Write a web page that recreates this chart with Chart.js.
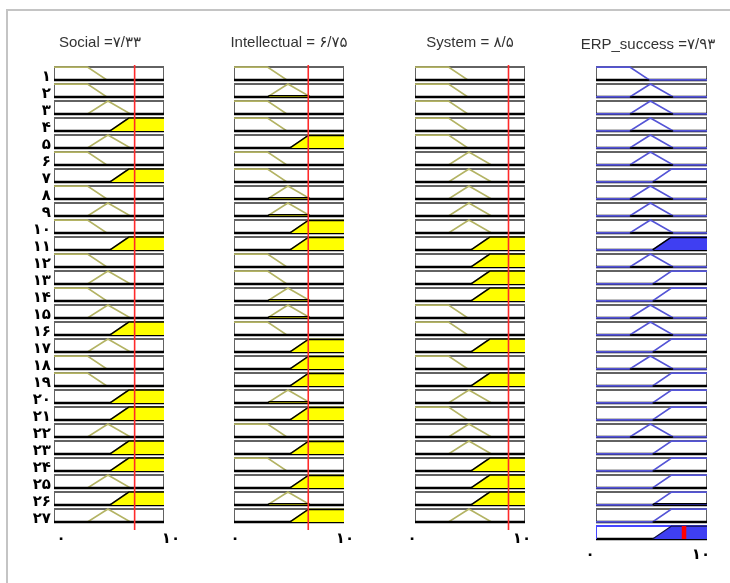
<!DOCTYPE html>
<html>
<head>
<meta charset="utf-8">
<title>Rule viewer</title>
<script src="https://cdn.jsdelivr.net/npm/chart.js@4.4.1/dist/chart.umd.min.js"></script>
<style>
  html, body { margin: 0; padding: 0; background: #fff; }
  #page { position: relative; width: 730px; height: 583px; overflow: hidden; }
  #frame {
    position: absolute; left: 6px; top: 9px; width: 740px; height: 600px;
    border-top: 2px solid #c4c4c4; border-left: 2px solid #c4c4c4;
  }
  canvas { position: absolute; top: 0; }
</style>
</head>
<body>
<div id="page">
  <div id="frame"></div>
  <canvas id="social" width="200" height="583" style="left:0px"></canvas>
  <canvas id="intellectual" width="170" height="583" style="left:204px"></canvas>
  <canvas id="system" width="170" height="583" style="left:385px"></canvas>
  <canvas id="erp" width="164" height="583" style="left:566px"></canvas>
</div>
<script>
const rowLabels = ['۱', '۲', '۳', '۴', '۵', '۶', '۷', '۸', '۹', '۱۰', '۱۱', '۱۲', '۱۳', '۱۴',
  '۱۵', '۱۶', '۱۷', '۱۸', '۱۹', '۲۰', '۲۱', '۲۲', '۲۳', '۲۴', '۲۵', '۲۶', '۲۷'];
const xTickValues = [0, 10];
const xTickLabels = ['۰', '۱۰'];

const inputTitles = ['Social =۷/۳۳', 'Intellectual = ۶/۷۵', 'System = ۸/۵'];
const outputTitle = 'ERP_success =۷/۹۳';
const inputValues = [7.33, 6.75, 8.5];
const outputValue = 7.93;

// membership functions (L = low, M = medium, H = high), breakpoints on 0..10
const mfLowX = [0, 3.05, 4.8, 10];
const mfLowY = [1, 1, 0, 0];
const mfMedX = [0, 3.05, 4.9, 6.95, 10];
const mfMedY = [0, 0, 1, 0, 0];
const mfHighX = [0, 5.1, 6.8, 10];
const mfHighY = [0, 0, 1, 1];

// which membership function each of the 27 rules uses
const socialRule = ['L', 'L', 'M', 'H', 'M', 'L', 'H', 'L', 'M', 'L', 'H', 'L', 'M', 'L',
  'M', 'H', 'M', 'L', 'L', 'H', 'H', 'M', 'H', 'H', 'M', 'H', 'M'];
const intellectualRule = ['L', 'M', 'L', 'L', 'H', 'L', 'L', 'M', 'M', 'H', 'H', 'L', 'L', 'M',
  'M', 'L', 'H', 'H', 'H', 'M', 'H', 'L', 'H', 'L', 'H', 'M', 'H'];
const systemRule = ['L', 'L', 'L', 'L', 'L', 'M', 'M', 'M', 'M', 'M', 'H', 'H', 'H', 'H',
  'L', 'L', 'H', 'L', 'H', 'M', 'L', 'M', 'M', 'H', 'H', 'H', 'M'];
const erpRule = ['L', 'M', 'M', 'M', 'M', 'M', 'H', 'M', 'M', 'M', 'H', 'M', 'H', 'H',
  'M', 'M', 'H', 'M', 'H', 'H', 'H', 'M', 'H', 'H', 'H', 'H', 'H'];

// aggregated output shown in the last box
const aggregateX = [0, 5.1, 6.8, 10];
const aggregateY = [0, 0, 1, 1];

// ---- drawing helpers ----
const BOX = 0.76; // box height as a share of one row
const shapes = {
  L: { x: mfLowX, y: mfLowY },
  M: { x: mfMedX, y: mfMedY },
  H: { x: mfHighX, y: mfHighY },
};

const rowTop = (r) => r - BOX / 2;
const rowBottom = (r) => r + BOX / 2;
const muToY = (r, mu) => rowBottom(r) - mu * BOX;

function mfValue(shape, x) {
  for (let i = 0; i < shape.x.length - 1; i++) {
    const x0 = shape.x[i], x1 = shape.x[i + 1];
    if (x >= x0 && x <= x1) {
      const t = (x - x0) / (x1 - x0);
      return shape.y[i] + t * (shape.y[i + 1] - shape.y[i]);
    }
  }
  return 0;
}

function shapePoints(shape, r) {
  return shape.x.map((x, i) => ({ x, y: muToY(r, shape.y[i]) }));
}

// outline of min(mf, level) over the support of the function
function clippedPoints(shape, r, level) {
  const pts = [];
  for (let i = 0; i < shape.x.length - 1; i++) {
    const x0 = shape.x[i], x1 = shape.x[i + 1];
    const y0 = shape.y[i], y1 = shape.y[i + 1];
    if (y0 === 0 && y1 === 0) continue;
    pts.push({ x: x0, y: muToY(r, Math.min(y0, level)) });
    if ((y0 - level) * (y1 - level) < 0) {
      const t = (level - y0) / (y1 - y0);
      pts.push({ x: x0 + t * (x1 - x0), y: muToY(r, level) });
    }
    pts.push({ x: x1, y: muToY(r, Math.min(y1, level)) });
  }
  return pts;
}

const GAP = { x: 10, y: null };

function frameSets(rows, outlineColor) {
  const outline = [];
  const bottom = [];
  rows.forEach((r) => {
    outline.push({ x: 0, y: rowBottom(r) }, { x: 0, y: rowTop(r) },
      { x: 10, y: rowTop(r) }, { x: 10, y: rowBottom(r) }, GAP);
    bottom.push({ x: 0, y: rowBottom(r) }, { x: 10, y: rowBottom(r) }, GAP);
  });
  return {
    outline: { data: outline, borderColor: outlineColor, borderWidth: 2 },
    bottom: { data: bottom, borderColor: '#000', borderWidth: 2.4 },
  };
}

function mfLineSet(rule, color) {
  const data = [];
  rule.forEach((m, i) => {
    data.push(...shapePoints(shapes[m], i + 1), GAP);
  });
  return { data, borderColor: color, borderWidth: 1.7 };
}

function fillSets(rule, levels, color) {
  return rule.map((m, i) => {
    const r = i + 1;
    const lvl = levels[i];
    return {
      data: clippedPoints(shapes[m], r, lvl),
      borderColor: '#000',
      borderWidth: 1.5,
      backgroundColor: color,
      fill: lvl > 0 ? { value: rowBottom(r) } : false,
    };
  });
}

// stack layers bottom-to-top; Chart.js draws the lowest `order` last
function layered(sets) {
  return sets.map((ds, z) => Object.assign({
    order: -z,
    pointRadius: 0,
    tension: 0,
    spanGaps: false,
    fill: false,
  }, ds));
}

const tickFont = { family: '"DejaVu Sans"', size: 15, weight: 'bold' };

function makeChart(id, cfg) {
  const rowTicks = cfg.rows.map((r) => ({ value: r }));
  return new Chart(document.getElementById(id), {
    type: 'line',
    data: { datasets: layered(cfg.sets) },
    options: {
      responsive: false,
      animation: false,
      events: [],
      layout: { padding: { left: 0, right: 0, top: 0, bottom: cfg.bottomPad } },
      plugins: {
        legend: { display: false },
        tooltip: { enabled: false },
        title: {
          display: true,
          text: cfg.title,
          color: '#333',
          font: { family: '"Liberation Sans", "DejaVu Sans"', size: 15, weight: 'normal' },
          padding: cfg.titlePadding,
        },
      },
      scales: {
        x: {
          type: 'linear',
          min: 0,
          max: 10,
          grid: { display: false, drawTicks: false },
          border: { display: false },
          afterBuildTicks: (axis) => { axis.ticks = xTickValues.map((v) => ({ value: v })); },
          afterFit: (axis) => { axis.height = 22; },
          ticks: {
            color: '#000',
            font: tickFont,
            padding: cfg.xPad,
            labelOffset: cfg.xOffset,
            maxRotation: 0,
            autoSkip: false,
            callback: (v) => xTickLabels[xTickValues.indexOf(v)],
          },
        },
        y: {
          type: 'linear',
          reverse: true,
          min: 0.5,
          max: cfg.rows.length + 0.5,
          grid: { display: false, drawTicks: false },
          border: { display: false },
          afterBuildTicks: (axis) => { axis.ticks = rowTicks.slice(0, rowLabels.length); },
          afterFit: (axis) => { axis.width = cfg.leftSpace; },
          ticks: {
            display: cfg.showRows,
            color: '#000',
            font: tickFont,
            padding: 3,
            labelOffset: 4,
            autoSkip: false,
            callback: (v) => rowLabels[v - 1],
          },
        },
        // empty right-hand margin so the title can use the whole canvas width
        yRight: {
          type: 'linear',
          position: 'right',
          grid: { display: false, drawTicks: false },
          border: { display: false },
          ticks: { display: false },
          afterFit: (axis) => { axis.width = cfg.rightSpace; },
        },
      },
    },
  });
}

// ---- build the columns ----
const rows27 = rowLabels.map((_, i) => i + 1);
const inputRules = [socialRule, intellectualRule, systemRule];
const inputIds = ['social', 'intellectual', 'system'];
const OLIVE = '#b3b363';
const YELLOW = '#ffff00';
const BLUE_LINE = '#5454d6';
const BLUE_FILL = '#3f3ff2';

const inputLevels = inputRules.map((rule, c) =>
  rule.map((m) => mfValue(shapes[m], inputValues[c])));

inputRules.forEach((rule, c) => {
  const frame = frameSets(rows27, '#626262');
  const redLine = {
    data: [{ x: inputValues[c], y: 0.5 }, { x: inputValues[c], y: 27.85 }],
    borderColor: '#ff2a2a',
    borderWidth: 1.6,
    clip: false,
  };
  makeChart(inputIds[c], {
    title: inputTitles[c],
    rows: rows27,
    showRows: c === 0,
    leftSpace: c === 0 ? 54 : 30,
    rightSpace: c === 0 ? 36 : 30,
    bottomPad: 37,
    titlePadding: { top: 34, bottom: 13 },
    xPad: 6,
    xOffset: [7, 1, -3][c],
    sets: [frame.outline, mfLineSet(rule, OLIVE), frame.bottom,
      ...fillSets(rule, inputLevels[c], YELLOW), redLine],
  });
});

// rule strength = weakest antecedent
const ruleStrength = erpRule.map((_, i) =>
  Math.min(inputLevels[0][i], inputLevels[1][i], inputLevels[2][i]));

const rows28 = rows27.concat([28]);
const erpFrame = frameSets(rows27, '#626262');
const aggFrame = frameSets([28], '#4646ff');
const aggShape = { x: aggregateX, y: aggregateY };
const aggFill = {
  data: clippedPoints(aggShape, 28, 1),
  borderColor: '#101040',
  borderWidth: 1.2,
  backgroundColor: BLUE_FILL,
  fill: { value: rowBottom(28) },
};
const centroid = {
  data: [{ x: outputValue, y: rowTop(28) }, { x: outputValue, y: rowBottom(28) }],
  borderColor: '#ff0000',
  borderWidth: 4.5,
};

makeChart('erp', {
  title: outputTitle,
  rows: rows28,
  showRows: false,
  leftSpace: 30,
  rightSpace: 23,
  bottomPad: 20,
  titlePadding: { top: 36, bottom: 11 },
  xPad: 5,
  xOffset: -6,
  sets: [erpFrame.outline, erpFrame.bottom, mfLineSet(erpRule, BLUE_LINE),
    ...fillSets(erpRule, ruleStrength, BLUE_FILL),
    aggFrame.bottom, aggFrame.outline, aggFill, centroid],
});
</script>
</body>
</html>
